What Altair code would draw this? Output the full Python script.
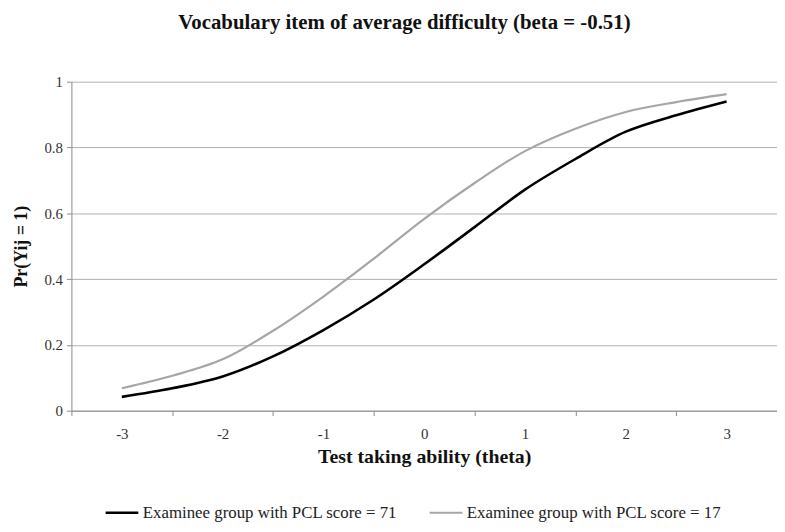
import altair as alt
import pandas as pd

# ---- data ----
theta = [-3, -2.5, -2, -1.5, -1, -0.5, 0, 0.5, 1, 1.5, 2, 2.5, 3]
pcl71 = [0.042, 0.068, 0.104, 0.165, 0.245, 0.338, 0.445, 0.558, 0.672, 0.765, 0.848, 0.898, 0.940]
pcl17 = [0.068, 0.106, 0.156, 0.243, 0.347, 0.462, 0.583, 0.692, 0.789, 0.857, 0.908, 0.938, 0.962]
series = ["Examinee group with PCL score = 71", "Examinee group with PCL score = 17"]
x_labels = [-3, -2, -1, 0, 1, 2, 3]
y_ticks = [0, 0.2, 0.4, 0.6, 0.8, 1]

rows = []
for t, a, b in zip(theta, pcl71, pcl17):
    rows.append({"theta": t, "p": a, "group": series[0]})
    rows.append({"theta": t, "p": b, "group": series[1]})
df = pd.DataFrame(rows)

# tick marks sit between the category labels (Excel category axis)
x_tick_pos = [v - 0.5 for v in x_labels] + [x_labels[-1] + 0.5]

W, H = 712, 332
FONT = "Liberation Serif"

chart = alt.Chart(df).mark_line(interpolate="catmull-rom").encode(
    x=alt.X(
        "theta:Q",
        scale=alt.Scale(domain=[x_tick_pos[0], x_tick_pos[-1]], nice=False, zero=False),
        axis=alt.Axis(
            values=x_tick_pos,
            labelExpr="datum.value < 3.4 ? '' + (datum.value + 0.5) : ''",
            labelOffset=W / 14,
            labelFlush=False,
            labelOverlap=False,
            grid=False,
            tickSize=5,
            labelPadding=11,
            title="Test taking ability (theta)",
            titleFontSize=20,
            titlePadding=5,
        ),
    ),
    y=alt.Y(
        "p:Q",
        scale=alt.Scale(domain=[0, 1], nice=False),
        axis=alt.Axis(
            values=y_ticks,
            labelExpr="'' + datum.value",
            grid=True,
            tickSize=5,
            labelPadding=4,
            title="Pr(Yij = 1)",
            titleFontSize=18,
            titlePadding=14,
        ),
    ),
    color=alt.Color(
        "group:N",
        scale=alt.Scale(domain=series, range=["#000000", "#a6a6a6"]),
        legend=alt.Legend(
            title=None,
            orient="none",
            direction="horizontal",
            legendX=33,
            legendY=417,
            symbolType="stroke",
            symbolSize=1089,
            symbolStrokeWidth=2.5,
            labelOffset=3,
            labelLimit=0,
            columnPadding=28,
            labelFont=FONT,
            labelFontSize=17,
            labelColor="#222222",
        ),
    ),
    strokeWidth=alt.StrokeWidth(
        "group:N", scale=alt.Scale(domain=series, range=[2.6, 2.2]), legend=None
    ),
).properties(
    width=W,
    height=H,
    title=alt.TitleParams(
        "Vocabulary item of average difficulty (beta = -0.51)",
        font=FONT,
        fontSize=21,
        fontWeight="bold",
        anchor="middle",
        dx=-20,
        offset=42,
        color="#111111",
    ),
    autosize=alt.AutoSizeParams(type="none"),
    padding={"left": 64, "top": 72, "right": 0, "bottom": 112},
).configure_view(
    strokeWidth=0
).configure_axis(
    labelFont=FONT,
    labelFontSize=15,
    labelColor="#333333",
    titleFont=FONT,
    titleFontWeight="bold",
    titleColor="#111111",
    domainColor="#8c8c8c",
    tickColor="#8c8c8c",
    gridColor="#b0b0b0",
    gridWidth=1,
)

chart.save("out.html", embed_options={"renderer": "svg", "actions": False})
